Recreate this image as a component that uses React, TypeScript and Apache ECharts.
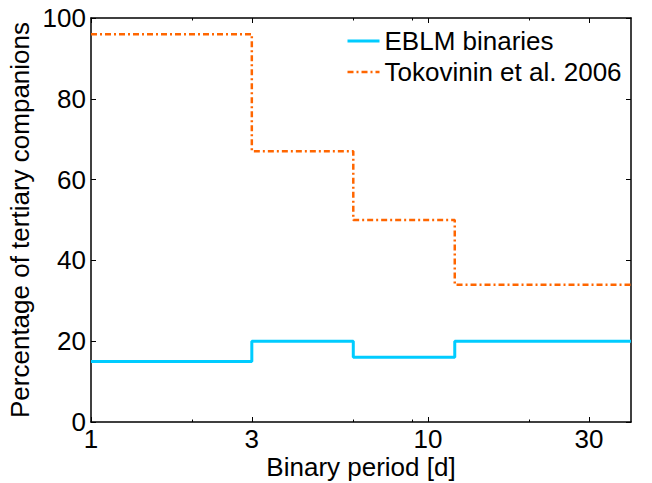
import React, { useEffect, useRef } from "react";
import * as echarts from "echarts";

// Bin edges of binary period [d]
const binEdges = [1, 3, 6, 12, 40];
// Percentage of tertiary companions per bin
const eblmValues = [15, 20, 16, 20];
const tokovininValues = [96, 67, 50, 34];
// Tick values
const xMajorTicks = [1, 3, 10, 30];
const xMinorTicks = [2, 6, 9, 20];
const yTicks = [0, 20, 40, 60, 80, 100];

const seriesNames = ["EBLM binaries", "Tokovinin et al. 2006"];

function stepData(values: number[]) {
  return binEdges.map((e, i) => [e, values[Math.min(i, values.length - 1)]]);
}

const FONT = "Liberation Sans, Arial, Helvetica, sans-serif";
const FS = 26;

export default function App() {
  const ref = useRef<HTMLDivElement>(null);
  useEffect(() => {
    if (!ref.current) return;
    const chart = echarts.init(ref.current, undefined, { renderer: "svg" });
    const axisLineStyle = { color: "#000", width: 1.5 };
    const xBase = {
      type: "log" as const,
      logBase: 10,
      min: binEdges[0],
      max: binEdges[binEdges.length - 1],
      gridIndex: 0,
      splitLine: { show: false },
      minorTick: { show: false },
    };
    chart.setOption({
      animation: false,
      backgroundColor: "#fff",
      textStyle: { fontFamily: FONT },
      grid: {
        left: 91,
        right: 21,
        top: 18,
        bottom: 61,
        containLabel: false,
        outerBoundsMode: "none",
      },
      legend: {
        orient: "vertical",
        left: 346,
        top: 28,
        padding: 0,
        itemWidth: 32,
        itemHeight: 14,
        itemGap: 5,
        itemStyle: { opacity: 0 },
        lineStyle: { width: "inherit" },
        textStyle: { fontSize: FS, fontFamily: FONT, color: "#000" },
        data: seriesNames,
      },
      xAxis: [
        {
          ...xBase,
          position: "bottom",
          name: "Binary period [d]",
          nameLocation: "middle",
          nameGap: 35,
          nameMoveOverlap: false,
          nameTextStyle: { fontSize: FS, lineHeight: 20, fontFamily: FONT, color: "#000" },
          axisLine: { show: true, lineStyle: axisLineStyle },
          axisTick: {
            show: true,
            inside: true,
            length: 5,
            customValues: xMajorTicks,
            lineStyle: { color: "#000", width: 1 },
          },
          axisLabel: {
            show: true,
            customValues: xMajorTicks,
            margin: 7,
            fontSize: FS,
            lineHeight: 20,
            fontFamily: FONT,
            color: "#000",
            formatter: (v: number) => String(Math.round(v)),
          },
        },
        {
          ...xBase,
          position: "bottom",
          axisLine: { show: false },
          axisTick: {
            show: true,
            inside: true,
            length: 2.5,
            customValues: xMinorTicks,
            lineStyle: { color: "#000", width: 1 },
          },
          axisLabel: { show: false },
        },
        {
          ...xBase,
          position: "top",
          axisLine: { show: true, lineStyle: axisLineStyle },
          axisTick: {
            show: true,
            inside: true,
            length: 5,
            customValues: xMajorTicks,
            lineStyle: { color: "#000", width: 1 },
          },
          axisLabel: { show: false },
        },
        {
          ...xBase,
          position: "top",
          axisLine: { show: false },
          axisTick: {
            show: true,
            inside: true,
            length: 2.5,
            customValues: xMinorTicks,
            lineStyle: { color: "#000", width: 1 },
          },
          axisLabel: { show: false },
        },
      ],
      yAxis: [
        {
          type: "value",
          min: yTicks[0],
          max: yTicks[yTicks.length - 1],
          interval: 20,
          position: "left",
          name: "Percentage of tertiary companions",
          nameLocation: "middle",
          nameGap: 58,
          nameMoveOverlap: false,
          nameTextStyle: { fontSize: FS, fontFamily: FONT, color: "#000" },
          axisLine: { show: true, lineStyle: axisLineStyle },
          axisTick: { show: true, inside: true, length: 5, lineStyle: { color: "#000", width: 1 } },
          axisLabel: { margin: 5, fontSize: FS, fontFamily: FONT, color: "#000" },
          splitLine: { show: false },
        },
        {
          type: "value",
          min: yTicks[0],
          max: yTicks[yTicks.length - 1],
          interval: 20,
          position: "right",
          axisLine: { show: true, lineStyle: axisLineStyle },
          axisTick: { show: true, inside: true, length: 5, lineStyle: { color: "#000", width: 1 } },
          axisLabel: { show: false },
          splitLine: { show: false },
        },
      ],
      series: [
        {
          name: seriesNames[0],
          type: "line",
          step: "end",
          xAxisIndex: 0,
          yAxisIndex: 0,
          symbol: "none",
          data: stepData(eblmValues),
          lineStyle: { color: "#00CCFF", width: 3 },
          itemStyle: { color: "#00CCFF" },
          z: 3,
        },
        {
          name: seriesNames[1],
          type: "line",
          step: "end",
          xAxisIndex: 0,
          yAxisIndex: 0,
          symbol: "none",
          data: stepData(tokovininValues),
          lineStyle: { color: "#FF6600", width: 2.5, type: [6, 3, 2, 3] },
          itemStyle: { color: "#FF6600" },
          z: 2,
        },
      ],
    });
    return () => chart.dispose();
  }, []);
  return <div ref={ref} style={{ width: 652, height: 483, position: "absolute", left: 0, top: 0 }} />;
}
